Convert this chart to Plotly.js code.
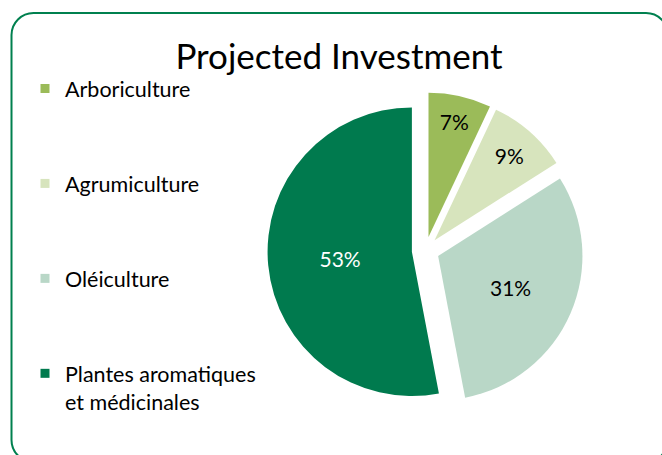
<!DOCTYPE html>
<html><head><meta charset="utf-8">
<script src="https://cdn.plot.ly/plotly-3.0.1.min.js"></script>
<style>html,body{margin:0;padding:0;background:#fff}#chart{width:662px;height:455px}</style>
</head><body><div id="chart"></div>
<script>
// Data
const categories = ['Arboriculture', 'Agrumiculture', 'Oléiculture', 'Plantes aromatiques<br>et médicinales'];
const values = [7, 9, 31, 53];
const sliceColors = ['#9BBB59', '#D7E4BD', '#B9D7C7', '#007A4E'];
const labelColors = ['#000000', '#000000', '#000000', '#FFFFFF'];
const chartTitle = 'Projected Investment';

const W = 662, H = 455;
const FONT = 'Lato, "Open Sans", sans-serif';
function px(x) { return x / W; }
function py(y) { return 1 - y / H; }
function roundRect(x0, y0, x1, y1, r) {
  const k = 0.5523 * r;
  return [
    `M ${px(x0 + r)},${py(y0)}`,
    `L ${px(x1 - r)},${py(y0)}`,
    `C ${px(x1 - r + k)},${py(y0)} ${px(x1)},${py(y0 + r - k)} ${px(x1)},${py(y0 + r)}`,
    `L ${px(x1)},${py(y1 - r)}`,
    `C ${px(x1)},${py(y1 - r + k)} ${px(x1 - r + k)},${py(y1)} ${px(x1 - r)},${py(y1)}`,
    `L ${px(x0 + r)},${py(y1)}`,
    `C ${px(x0 + r - k)},${py(y1)} ${px(x0)},${py(y1 - r + k)} ${px(x0)},${py(y1 - r)}`,
    `L ${px(x0)},${py(y0 + r)}`,
    `C ${px(x0)},${py(y0 + r - k)} ${px(x0 + r - k)},${py(y0)} ${px(x0 + r)},${py(y0)}`,
    'Z'
  ].join(' ');
}

const pie = {
  type: 'pie',
  labels: categories,
  values: values,
  sort: false,
  direction: 'clockwise',
  rotation: 0,
  pull: 0.095,
  textinfo: 'percent',
  textposition: 'inside',
  insidetextorientation: 'horizontal',
  insidetextfont: { family: FONT, size: 21, color: labelColors },
  marker: { colors: sliceColors, line: { width: 0 } },
  domain: { x: [0.4041, 0.8815], y: [0.1011, 0.7978] },
  showlegend: false,
  hoverinfo: 'none'
};

const legendTraces = categories.map((name, i) => ({
  type: 'scatter',
  mode: 'markers',
  x: [null], y: [null],
  name: name,
  legendgroup: 'g' + i,
  showlegend: true,
  marker: { symbol: 'square', size: 9, color: sliceColors[i] },
  hoverinfo: 'skip'
}));

const layout = {
  width: W, height: H,
  margin: { l: 0, r: 0, t: 0, b: 0 },
  paper_bgcolor: '#ffffff',
  plot_bgcolor: '#ffffff',
  title: {
    text: chartTitle,
    font: { family: FONT, size: 35, color: '#000000' },
    x: 339 / W, xanchor: 'center', xref: 'paper',
    y: py(57), yanchor: 'middle', yref: 'paper'
  },
  xaxis: { visible: false },
  yaxis: { visible: false },
  showlegend: true,
  legend: {
    x: px(25), xanchor: 'left',
    y: py(68), yanchor: 'top',
    font: { family: FONT, size: 21.5, color: '#000000' },
    tracegroupgap: 64,
    valign: 'top',
    bgcolor: 'rgba(0,0,0,0)',
    itemclick: false, itemdoubleclick: false
  },
  shapes: [{
    type: 'path', xref: 'paper', yref: 'paper',
    path: roundRect(11.5, 13, 668, 462, 22),
    line: { color: '#00804F', width: 2 },
    fillcolor: 'rgba(0,0,0,0)',
    layer: 'below'
  }]
};

Plotly.newPlot('chart', [pie].concat(legendTraces), layout, { displayModeBar: false, staticPlot: true });
</script>
</body></html>
